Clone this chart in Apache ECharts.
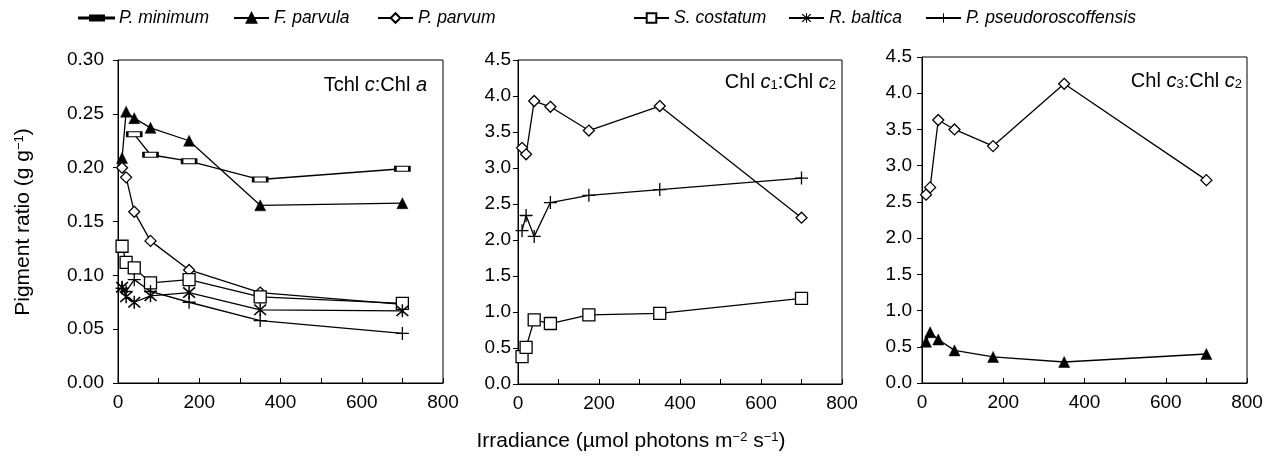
<!DOCTYPE html>
<html>
<head>
<meta charset="utf-8">
<script src="https://cdn.jsdelivr.net/npm/echarts@6/dist/echarts.min.js"></script>
<style>
html,body{margin:0;padding:0;background:#fff;}
#c{width:1270px;height:458px;}
</style>
</head>
<body>
<div id="c"></div>
<script>
// ---- data ----
var irradiance = [10, 20, 40, 80, 175, 350, 700];
var xTicks = [0, 200, 400, 600, 800];
var speciesNames = ['P. minimum', 'F. parvula', 'P. parvum', 'S. costatum', 'R. baltica', 'P. pseudoroscoffensis'];

// Panel 1: Tchl c : Chl a
var pMinimum1  = [null, null, 0.231, 0.212, 0.206, 0.189, 0.199];
var fParvula1  = [0.209, 0.252, 0.246, 0.237, 0.225, 0.165, 0.167];
var pParvum1   = [0.200, 0.191, 0.159, 0.132, 0.105, 0.084, 0.073];
var sCostatum1 = [0.127, 0.112, 0.107, 0.093, 0.096, 0.080, 0.074];
var rBaltica1  = [0.089, 0.080, 0.075, 0.081, 0.084, 0.068, 0.067];
var pPseudo1   = [0.088, 0.085, 0.096, 0.085, 0.075, 0.058, 0.046];

// Panel 2: Chl c1 : Chl c2
var pParvum2   = [3.28, 3.19, 3.93, 3.85, 3.52, 3.86, 2.31];
var pPseudo2   = [2.13, 2.34, 2.05, 2.52, 2.62, 2.70, 2.86];
var sCostatum2 = [0.38, 0.51, 0.89, 0.84, 0.96, 0.98, 1.19];

// Panel 3: Chl c3 : Chl c2
var pParvum3   = [2.60, 2.70, 3.63, 3.50, 3.27, 4.13, 2.80];
var fParvula3  = [0.57, 0.70, 0.60, 0.45, 0.36, 0.29, 0.40];

// ---- styling ----
var FONT = '"Liberation Sans", Arial, Helvetica, sans-serif';
var asteriskPath = 'path://M0.6,1.4L1.4,0.6L9.4,8.6L8.6,9.4Z M8.6,0.6L9.4,1.4L1.4,9.4L0.6,8.6Z M4.5,0L5.5,0L5.5,10L4.5,10Z';
var plusPath = 'path://M0,4.5L10,4.5L10,5.5L0,5.5Z M4.5,0L5.5,0L5.5,10L4.5,10Z';
var minimumLegendIcon = 'path://M0,2L35,2L35,3L0,3Z M11,0L25,0L25,5L11,5Z';

var styles = {
  'P. minimum': {symbol: 'rect', symbolSize: [14, 5], itemStyle: {color: '#fff', borderColor: '#000', borderWidth: 1.6}},
  'F. parvula': {symbol: 'triangle', symbolSize: 11, itemStyle: {color: '#000', borderColor: '#000', borderWidth: 0.5}},
  'P. parvum': {symbol: 'diamond', symbolSize: 11, itemStyle: {color: '#fff', borderColor: '#000', borderWidth: 1.3}},
  'S. costatum': {symbol: 'rect', symbolSize: 12, itemStyle: {color: '#fff', borderColor: '#000', borderWidth: 1.3}},
  'R. baltica': {symbol: asteriskPath, symbolSize: 13, itemStyle: {color: '#000', borderWidth: 0}},
  'P. pseudoroscoffensis': {symbol: plusPath, symbolSize: 13, itemStyle: {color: '#000', borderWidth: 0}}
};

function mk(name, vals, idx) {
  var st = styles[name];
  var data = irradiance.map(function (x, i) { return [x, vals[i]]; });
  return {
    name: name, type: 'line', xAxisIndex: idx, yAxisIndex: idx,
    data: data, symbol: st.symbol, symbolSize: st.symbolSize,
    showAllSymbol: true, itemStyle: st.itemStyle,
    lineStyle: {color: '#000', width: 1.3},
    emphasis: {disabled: true}
  };
}

var grids = [
  {left: 118, top: 60, width: 325, height: 323},
  {left: 518, top: 60, width: 324, height: 324},
  {left: 922, top: 57, width: 325, height: 326}
].map(function (g) {
  g.show = true; g.borderColor = '#000'; g.borderWidth = 1; g.backgroundColor = 'transparent';
  return g;
});

function xAx(i) {
  return {
    type: 'value', gridIndex: i, min: xTicks[0], max: xTicks[xTicks.length - 1], interval: 200,
    axisLine: {show: true, lineStyle: {color: '#000', width: 1}},
    axisTick: {show: true, inside: true, length: 5, lineStyle: {color: '#000'}},
    minorTick: {show: true, splitNumber: 2, length: 5, lineStyle: {color: '#000'}},
    splitLine: {show: false},
    axisLabel: {color: '#000', fontSize: 19, fontFamily: FONT, margin: 10}
  };
}
function yAx(i, max, interval, dec, margin) {
  return {
    type: 'value', gridIndex: i, min: 0, max: max, interval: interval,
    axisLine: {show: true, lineStyle: {color: '#000', width: 1}},
    axisTick: {show: true, inside: false, length: 5, lineStyle: {color: '#000'}},
    splitLine: {show: false},
    axisLabel: {color: '#000', fontSize: 19, fontFamily: FONT, margin: margin,
      formatter: function (v) { return v.toFixed(dec); }}
  };
}

var legendLeft = [78, 233, 377, 633, 788, 925];
var legends = speciesNames.map(function (n, i) {
  var d = {name: n};
  var h = 12, top = 9;
  if (n === 'P. minimum') { d.icon = minimumLegendIcon; h = 5; top = 9; }
  return {
    left: legendLeft[i], top: top, padding: 0, data: [d], itemWidth: 35, itemHeight: h,
    selectedMode: false,
    textStyle: {fontSize: 17.5, fontStyle: 'italic', fontFamily: FONT, color: '#000'}
  };
});

var rich = {
  n: {fontSize: 20, fontFamily: FONT, fill: '#000', color: '#000', lineHeight: 26, verticalAlign: 'bottom'},
  i: {fontSize: 20, fontFamily: FONT, fontStyle: 'italic', fill: '#000', color: '#000', lineHeight: 26, verticalAlign: 'bottom'},
  s: {fontSize: 13, fontFamily: FONT, fill: '#000', color: '#000', lineHeight: 10, verticalAlign: 'bottom'}
};
var richT = {
  n: {fontSize: 21, fontFamily: FONT, fill: '#000', color: '#000', lineHeight: 28, verticalAlign: 'top'},
  p: {fontSize: 13, fontFamily: FONT, fill: '#000', color: '#000', lineHeight: 14, verticalAlign: 'top'}
};

var option = {
  animation: false,
  backgroundColor: '#fff',
  legend: legends,
  grid: grids,
  xAxis: [xAx(0), xAx(1), xAx(2)],
  yAxis: [yAx(0, 0.30, 0.05, 2, 14), yAx(1, 4.5, 0.5, 1, 7), yAx(2, 4.5, 0.5, 1, 10)],
  series: [
    mk('P. minimum', pMinimum1, 0),
    mk('F. parvula', fParvula1, 0),
    mk('P. parvum', pParvum1, 0),
    mk('S. costatum', sCostatum1, 0),
    mk('R. baltica', rBaltica1, 0),
    mk('P. pseudoroscoffensis', pPseudo1, 0),
    mk('P. parvum', pParvum2, 1),
    mk('P. pseudoroscoffensis', pPseudo2, 1),
    mk('S. costatum', sCostatum2, 1),
    mk('P. parvum', pParvum3, 2),
    mk('F. parvula', fParvula3, 2)
  ],
  graphic: [
    {type: 'text', x: 427, y: 82, style: {text: '{n|Tchl }{i|c}{n|:Chl }{i|a}', rich: rich, align: 'right', verticalAlign: 'middle'}},
    {type: 'text', x: 836, y: 79, style: {text: '{n|Chl }{i|c}{s|1}{n|:Chl }{i|c}{s|2}', rich: rich, align: 'right', verticalAlign: 'middle'}},
    {type: 'text', x: 1242, y: 78, style: {text: '{n|Chl }{i|c}{s|3}{n|:Chl }{i|c}{s|2}', rich: rich, align: 'right', verticalAlign: 'middle'}},
    {type: 'text', x: 27, y: 222, rotation: Math.PI / 2,
      style: {text: '{n|Pigment ratio (g g}{p|\u22121}{n|)}', rich: richT, align: 'center', verticalAlign: 'middle'}},
    {type: 'text', x: 631, y: 445,
      style: {text: '{n|Irradiance (\u00b5mol photons m}{p|\u22122}{n| s}{p|\u22121}{n|)}', rich: richT, align: 'center', verticalAlign: 'middle'}}
  ]
};

var chart = echarts.init(document.getElementById('c'), null, {renderer: 'canvas'});
chart.setOption(option);
</script>
</body>
</html>
